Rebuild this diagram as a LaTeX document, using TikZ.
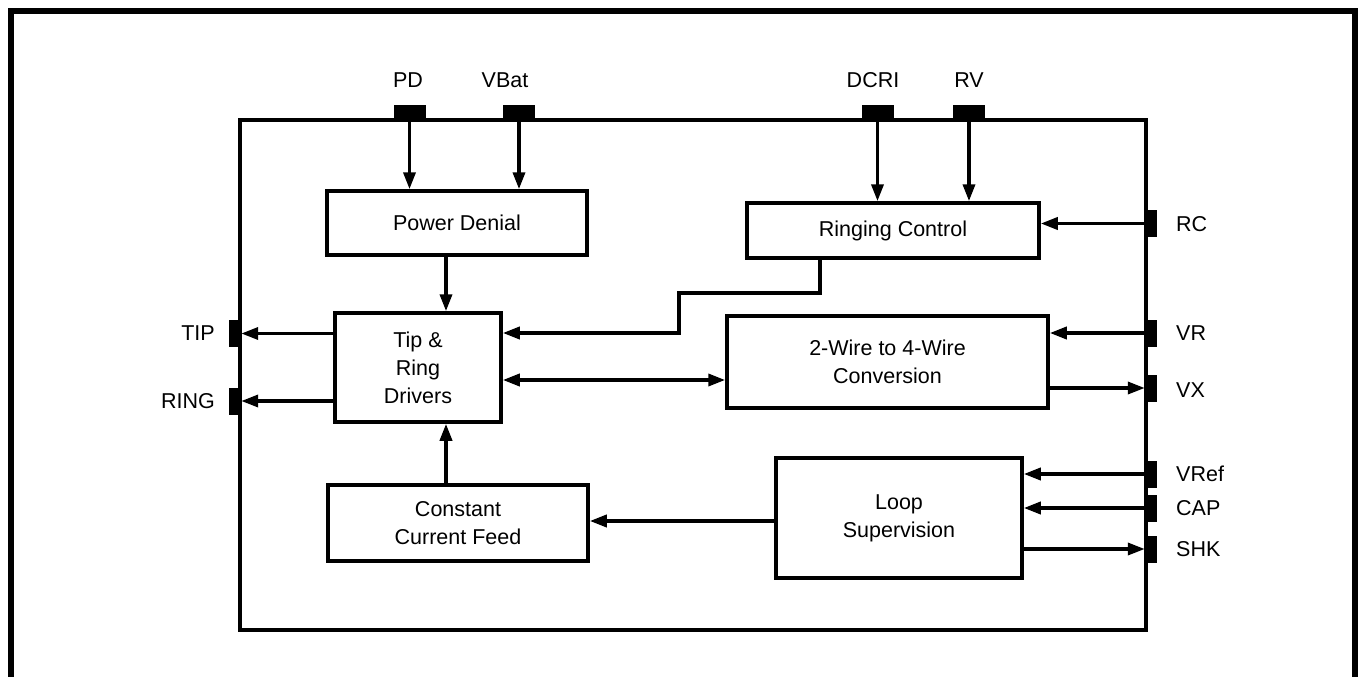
\documentclass[tikz,border=0pt]{standalone}
\usepackage{fontspec}
\setmainfont{Liberation Sans}
\usetikzlibrary{arrows.meta}
\begin{document}
\begin{tikzpicture}[x=1pt,y=-1pt,
  blk/.style={draw,line width=3.5pt,inner sep=0pt,align=center,font=\fontsize{21.5}{28}\selectfont},
  pinh/.style={fill,draw=none,inner sep=0pt,minimum width=32pt,minimum height=15pt},
  pinv/.style={fill,draw=none,inner sep=0pt,minimum width=12pt,minimum height=27pt},
  arr/.style={line width=3.5pt,-{Triangle[length=17pt,width=12pt]}},
  darr/.style={line width=3.5pt,{Triangle[length=17pt,width=12pt]}-{Triangle[length=17pt,width=12pt]}},
  lbl/.style={font=\fontsize{21.5}{24}\selectfont,inner sep=0pt}]
\useasboundingbox (0,0) rectangle (1361,677);
% outer frame
\draw[line width=6pt,line join=miter] (11,680) -- (11,11) -- (1355,11) -- (1355,680);
% chip
\node[draw,line width=4pt,inner sep=0pt,minimum width=906pt,minimum height=510.5pt] (chip) at (693,374.75) {};
% blocks
\node[blk,minimum width=260pt,minimum height=64pt] (pwr) at (457,223) {Power Denial};
\node[blk,minimum width=292pt,minimum height=55pt] (ringc) at (893,230.5) {Ringing Control};
\node[blk,minimum width=166pt,minimum height=109pt] (tr) at (418,367.5) {Tip \&\\Ring\\Drivers};
\node[blk,minimum width=321pt,minimum height=92pt] (conv) at (887.5,362) {2-Wire to 4-Wire\\Conversion};
\node[blk,minimum width=260pt,minimum height=76pt] (ccf) at (458,523) {Constant\\Current Feed};
\node[blk,minimum width=246pt,minimum height=120pt] (loop) at (899,518) {Loop\\Supervision};
% top pins
\node[pinh] (pPD) at (409.5,112.5) {};
\node[pinh] (pVB) at (519,112.5) {};
\node[pinh] (pDC) at (877.5,112.5) {};
\node[pinh] (pRV) at (969,112.5) {};
% left pins
\node[pinv] (pTIP) at (235,333.5) {};
\node[pinv] (pRING) at (235,401) {};
% right pins
\node[pinv] (pRC) at (1151,223.5) {};
\node[pinv] (pVR) at (1151,333) {};
\node[pinv] (pVX) at (1151,388) {};
\node[pinv] (pVRef) at (1151,474) {};
\node[pinv] (pCAP) at (1151,508) {};
\node[pinv] (pSHK) at (1151,549) {};
% labels
\node[lbl] (lPD) at (408,80) {PD};
\node[lbl] (lVB) at (505,80) {VBat};
\node[lbl] (lDC) at (873,80) {DCRI};
\node[lbl] (lRV) at (969,80) {RV};
\node[lbl,anchor=east] (lTIP) at (215,333) {TIP};
\node[lbl,anchor=east] (lRING) at (215,401) {RING};
\node[lbl,anchor=west] (lRC) at (1176,224) {RC};
\node[lbl,anchor=west] (lVR) at (1176,333) {VR};
\node[lbl,anchor=west] (lVX) at (1176,390) {VX};
\node[lbl,anchor=west] (lVRef) at (1176,474) {VRef};
\node[lbl,anchor=west] (lCAP) at (1176,508) {CAP};
\node[lbl,anchor=west] (lSHK) at (1176,549) {SHK};
% connectors
\draw[arr] (pPD.south) -- (pwr.north -| pPD.south);
\draw[arr] (pVB.south) -- (pwr.north -| pVB.south);
\draw[arr] (pDC.south) -- (ringc.north -| pDC.south);
\draw[arr] (pRV.south) -- (ringc.north -| pRV.south);
\draw[arr] (pRC.west) -- (ringc.east |- pRC.west);
\draw[arr] (pwr.south -| 446,0) -- (tr.north -| 446,0);
\coordinate (rcA) at (820,293);
\coordinate (rcB) at (679,333);
\draw[arr,line join=miter] (ringc.south -| rcA) -- (rcA) -| (rcB) -- (tr.east |- rcB);
\draw[arr] (tr.west |- pTIP.east) -- (pTIP.east);
\draw[arr] (tr.west |- pRING.east) -- (pRING.east);
\draw[darr] (tr.east |- 0,380) -- (conv.west |- 0,380);
\draw[arr] (pVR.west) -- (conv.east |- pVR.west);
\draw[arr] (conv.east |- pVX.west) -- (pVX.west);
\draw[arr] (pVRef.west) -- (loop.east |- pVRef.west);
\draw[arr] (pCAP.west) -- (loop.east |- pCAP.west);
\draw[arr] (loop.east |- pSHK.west) -- (pSHK.west);
\draw[arr] (loop.west |- 0,521) -- (ccf.east |- 0,521);
\draw[arr] (ccf.north -| 446,0) -- (tr.south -| 446,0);
\end{tikzpicture}
\end{document}
